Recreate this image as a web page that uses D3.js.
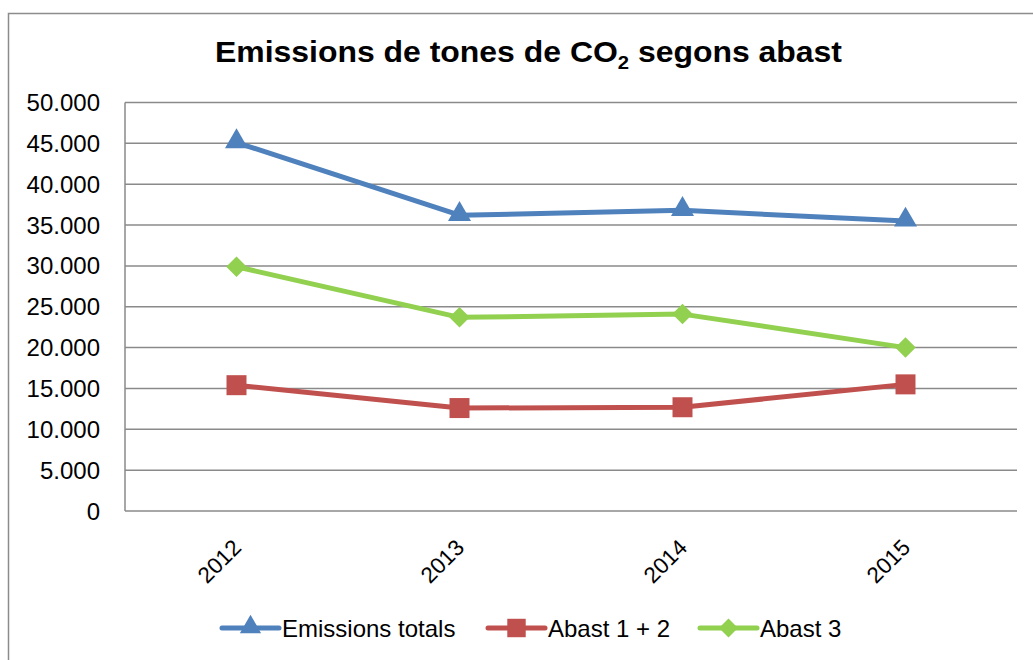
<html>
<head>
<script src="https://d3js.org/d3.v7.min.js"></script>
<style>
  body { margin: 0; background: #fff; }
  text { font-family: "Liberation Sans", Arial, sans-serif; }
</style>
</head>
<body>
<svg width="1033" height="660"></svg>
<script>
const years = ['2012', '2013', '2014', '2015'];
const totals = [45100, 36200, 36800, 35500];
const abast12 = [15400, 12600, 12700, 15500];
const abast3 = [29900, 23700, 24100, 20000];
const seriesNames = ['Emissions totals', 'Abast 1 + 2', 'Abast 3'];
const yTicks = [0, 5000, 10000, 15000, 20000, 25000, 30000, 35000, 40000, 45000, 50000];

const svg = d3.select('svg');
const plotLeft = 125, plotRight = 1017, plotTop = 102.5, plotBottom = 511;

// outer frame
svg.append('rect')
    .attr('x', 8.5).attr('y', 13.5)
    .attr('width', 1040).attr('height', 660)
    .attr('fill', 'none').attr('stroke', '#8c8c8c').attr('stroke-width', 1.5);

const title = svg.append('text')
    .attr('x', 528.5).attr('y', 62)
    .attr('text-anchor', 'middle')
    .attr('font-size', 30).attr('font-weight', 'bold')
    .attr('textLength', 627).attr('lengthAdjust', 'spacingAndGlyphs');
title.append('tspan').text('Emissions de tones de CO');
title.append('tspan').attr('font-size', 19).attr('dy', 7).text('2');
title.append('tspan').attr('dy', -7).text(' segons abast');

const x = d3.scaleBand().domain(years).range([plotLeft, plotRight]);
const y = d3.scaleLinear().domain([0, 50000]).range([plotBottom, plotTop]);

const fmt = d => d === 0 ? '0' : d3.format(',')(d).replace(/,/g, '.');

// grid
svg.append('g').selectAll('line').data(yTicks.filter(d => d > 0))
    .join('line')
    .attr('x1', plotLeft).attr('x2', plotRight)
    .attr('y1', d => y(d)).attr('y2', d => y(d))
    .attr('stroke', '#8a8a8a').attr('stroke-width', 1.5);

// axes lines
svg.append('line').attr('x1', plotLeft).attr('x2', plotLeft).attr('y1', plotTop).attr('y2', plotBottom)
    .attr('stroke', '#8a8a8a').attr('stroke-width', 1.5);
svg.append('line').attr('x1', plotLeft).attr('x2', plotRight).attr('y1', plotBottom).attr('y2', plotBottom)
    .attr('stroke', '#8a8a8a').attr('stroke-width', 1.5);

svg.append('g').selectAll('text').data(yTicks)
    .join('text')
    .attr('x', 100).attr('y', d => y(d) + 8.5)
    .attr('text-anchor', 'end').attr('font-size', 24)
    .text(fmt);

svg.append('g').selectAll('text').data(years)
    .join('text')
    .attr('transform', d => `translate(${x(d) + x.bandwidth() / 2 + 6},549) rotate(-45)`)
    .attr('text-anchor', 'end').attr('font-size', 22.5)
    .text(d => d);

const series = [
  {name: seriesNames[0], values: totals, color: '#4f81bd', shape: d3.symbolTriangle, size: 230, rot: 0, dy: -1},
  {name: seriesNames[1], values: abast12, color: '#c0504d', shape: d3.symbolSquare, size: 400, rot: 0, dy: 0},
  {name: seriesNames[2], values: abast3, color: '#92d050', shape: d3.symbolSquare, size: 210, rot: 45, dy: 0}
];

const cx = i => x(years[i]) + x.bandwidth() / 2;
const line = d3.line().x((d, i) => cx(i)).y(d => y(d));

series.forEach(s => {
  svg.append('path').datum(s.values)
      .attr('d', line).attr('fill', 'none')
      .attr('stroke', s.color).attr('stroke-width', 5)
      .attr('stroke-linejoin', 'round');
  svg.append('g').selectAll('path').data(s.values)
      .join('path')
      .attr('transform', (d, i) => `translate(${cx(i)},${y(d) + s.dy}) rotate(${s.rot})`)
      .attr('d', d3.symbol().type(s.shape).size(s.size))
      .attr('fill', s.color);
});

// legend
const legX = [222, 488, 700];
const leg = svg.append('g').selectAll('g').data(series).join('g')
    .attr('transform', (d, i) => `translate(${legX[i]},628)`);
leg.append('line').attr('x1', 0).attr('x2', 57)
    .attr('stroke', d => d.color).attr('stroke-width', 5).attr('stroke-linecap', 'round');
leg.append('path')
    .attr('transform', d => `translate(28.5,${d.dy}) rotate(${d.rot})`)
    .attr('d', d => d3.symbol().type(d.shape).size(d.size * 0.85)())
    .attr('fill', d => d.color);
leg.append('text')
    .attr('x', 60).attr('y', 9).attr('font-size', 24)
    .text(d => d.name);
</script>
</body>
</html>
